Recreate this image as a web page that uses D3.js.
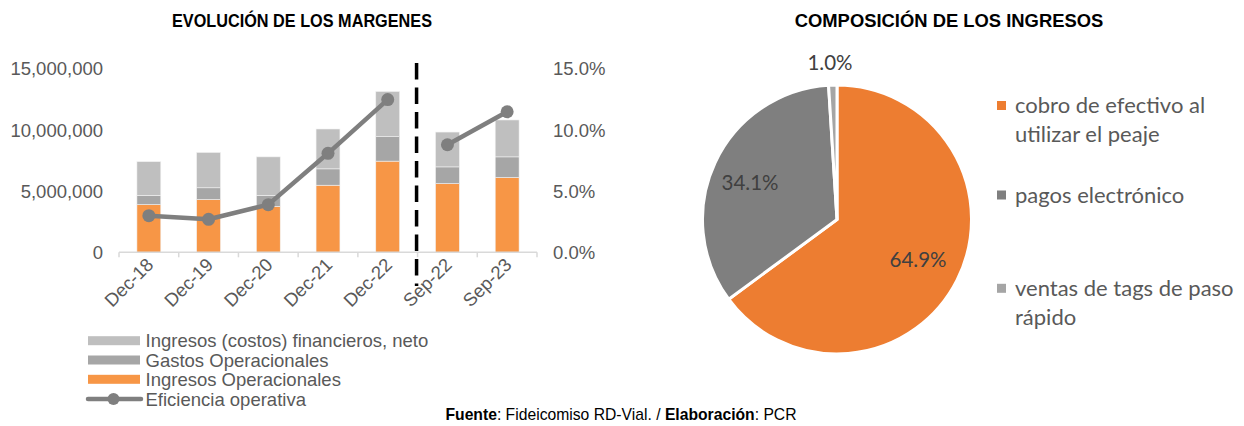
<!DOCTYPE html>
<html><head><meta charset="utf-8">
<script src="https://cdn.jsdelivr.net/npm/d3@7"></script>
<style>
html,body{margin:0;padding:0;background:#fff;}
svg{display:block;}
</style></head>
<body>
<svg id="c" width="1244" height="426"></svg>
<script>
// ---- data ----
const categories = ["Dec-18","Dec-19","Dec-20","Dec-21","Dec-22","Sep-22","Sep-23"];
const ingresosOperacionales = [3900000, 4320000, 3760000, 5490000, 7460000, 5620000, 6120000];
const gastosOperacionales   = [760000, 960000, 900000, 1340000, 2000000, 1370000, 1690000];
const ingresosFinancieros   = [2760000, 2890000, 3150000, 3260000, 3700000, 2850000, 3020000];
const eficienciaOperativa   = [0.030, 0.027, 0.039, 0.081, 0.125, 0.088, 0.115];
const leftTicks = [0, 5000000, 10000000, 15000000];
const rightTicks = [0, 0.05, 0.10, 0.15];
const barSeriesNames = ["Ingresos (costos) financieros, neto","Gastos Operacionales","Ingresos Operacionales"];
const lineSeriesName = "Eficiencia operativa";

const pieLabels = ["cobro de efectivo al utilizar el peaje","pagos electrónico","ventas de tags de paso rápido"];
const pieLegendLines = [["cobro de efectivo al","utilizar el peaje"],["pagos electrónico"],["ventas de tags de paso","rápido"]];
const pieValues = [64.9, 34.1, 1.0];

// ---- styles ----
const cOrangeBar = "#f79646", cGastos = "#a6a6a6", cFin = "#bfbfbf", cLine = "#7f7f7f";
const pieColors = ["#ed7d31", "#7f7f7f", "#a5a5a5"];
const arial = "'Liberation Sans', Arial, sans-serif";
const cal = "Lato, 'Noto Sans', sans-serif";
const txt = "#595959";
const fs = 18.5;

const svg = d3.select("#c");

// ---- titles ----
svg.append("text").attr("x", 302).attr("y", 27).attr("text-anchor","middle")
  .attr("font-family", arial).attr("font-weight","bold").attr("font-size", 18.5).attr("fill","#000")
  .attr("textLength", 260).attr("lengthAdjust", "spacingAndGlyphs")
  .text("EVOLUCIÓN DE LOS MARGENES");
svg.append("text").attr("x", 949).attr("y", 27).attr("text-anchor","middle")
  .attr("font-family", arial).attr("font-weight","bold").attr("font-size", 18.4).attr("fill","#000")
  .text("COMPOSICIÓN DE LOS INGRESOS");

// ---- bar chart ----
const x = d3.scaleBand().domain(categories).range([119, 537]).paddingInner(0).paddingOuter(0);
const xb = d3.scaleBand().domain(categories).range([119, 537]).paddingInner(0.6).paddingOuter(0.3);
const y = d3.scaleLinear().domain([0, 15000000]).range([252.3, 69]);
const y2 = d3.scaleLinear().domain([0, 0.15]).range([252.3, 69]);

const rows = categories.map((c,i)=>({cat:c, op: ingresosOperacionales[i], gastos: gastosOperacionales[i], fin: ingresosFinancieros[i]}));
const stack = d3.stack().keys(["op","gastos","fin"])(rows);
const segColors = {op: cOrangeBar, gastos: cGastos, fin: cFin};

const gBars = svg.append("g");
stack.forEach(layer => {
  gBars.selectAll(null).data(layer).enter().append("rect")
    .attr("x", d => xb(d.data.cat))
    .attr("width", xb.bandwidth())
    .attr("y", d => y(d[1]))
    .attr("height", d => y(d[0]) - y(d[1]))
    .attr("fill", segColors[layer.key])
    .attr("stroke", "#f2f2f2").attr("stroke-width", 0.6);
});

// x axis
const xAxisG = svg.append("g").attr("transform", `translate(0,${y(0)})`);
xAxisG.append("line").attr("x1", 119).attr("x2", 537).attr("y1", 0).attr("y2", 0)
  .attr("stroke", "#d9d9d9").attr("stroke-width", 1.5);
const bounds = categories.map(c => x(c)).concat([x(categories[categories.length-1]) + x.bandwidth()]);
xAxisG.selectAll(null).data(bounds).enter().append("line")
  .attr("x1", d=>d).attr("x2", d=>d).attr("y1", 0).attr("y2", 5)
  .attr("stroke", "#d9d9d9").attr("stroke-width", 1.5);
xAxisG.selectAll(null).data(categories).enter().append("text")
  .attr("transform", d => `translate(${x(d) + x.bandwidth()/2 + 1},${9}) rotate(-45)`)
  .attr("text-anchor","end").attr("dy","0.35em")
  .attr("font-family", arial).attr("font-size", fs).attr("fill", txt)
  .text(d => d);

// left axis labels
svg.append("g").selectAll(null).data(leftTicks).enter().append("text")
  .attr("x", 103).attr("y", d => y(d)).attr("dy", "0.35em").attr("text-anchor","end")
  .attr("font-family", arial).attr("font-size", fs).attr("fill", txt)
  .text(d => d3.format(",")(d));
// right axis labels
svg.append("g").selectAll(null).data(rightTicks).enter().append("text")
  .attr("x", 553).attr("y", d => y2(d)).attr("dy", "0.35em").attr("text-anchor","start")
  .attr("font-family", arial).attr("font-size", fs).attr("fill", txt)
  .text(d => d3.format(".1%")(d));

// dashed separator between Dec-22 and Sep-22
const sepX = x("Sep-22") - 1;
svg.append("line").attr("x1", sepX).attr("x2", sepX).attr("y1", 63).attr("y2", 286)
  .attr("stroke", "#000").attr("stroke-width", 3.5).attr("stroke-dasharray", "16.5,8");

// line series (broken between the two periods)
const pts = categories.map((c,i)=>({cat:c, v: eficienciaOperativa[i], seg: i < 5 ? 0 : 1}));
const lineGen = d3.line().x(d => x(d.cat) + x.bandwidth()/2).y(d => y2(d.v));
[0,1].forEach(s => {
  svg.append("path").datum(pts.filter(p => p.seg === s))
    .attr("d", lineGen).attr("fill","none").attr("stroke", cLine).attr("stroke-width", 4.5)
    .attr("stroke-linejoin","round");
});
svg.append("g").selectAll(null).data(pts).enter().append("circle")
  .attr("cx", d => x(d.cat) + x.bandwidth()/2).attr("cy", d => y2(d.v)).attr("r", 6.5)
  .attr("fill", cLine);

// bar chart legend
const legY = [340.7, 360, 379.3, 399];
const legItems = [
  {name: barSeriesNames[0], color: cFin, type: "bar"},
  {name: barSeriesNames[1], color: cGastos, type: "bar"},
  {name: barSeriesNames[2], color: cOrangeBar, type: "bar"},
  {name: lineSeriesName, color: cLine, type: "line"}
];
const lg = svg.append("g");
legItems.forEach((it, i) => {
  if (it.type === "bar") {
    lg.append("rect").attr("x", 88).attr("y", legY[i] - 4.5).attr("width", 52).attr("height", 9).attr("fill", it.color);
  } else {
    lg.append("line").attr("x1", 88).attr("x2", 141).attr("y1", legY[i]).attr("y2", legY[i])
      .attr("stroke", it.color).attr("stroke-width", 4.5).attr("stroke-linecap","round");
    lg.append("circle").attr("cx", 113.5).attr("cy", legY[i]).attr("r", 6).attr("fill", it.color);
  }
  lg.append("text").attr("x", 145.5).attr("y", legY[i]).attr("dy","0.36em")
    .attr("font-family", arial).attr("font-size", fs).attr("fill", txt).text(it.name);
});

// ---- pie ----
const cx = 837, cy = 219.5, R = 134.5;
const pie = d3.pie().sort(null).value(d => d)(pieValues);
const arc = d3.arc().innerRadius(0).outerRadius(R);
const gp = svg.append("g").attr("transform", `translate(${cx},${cy})`);
gp.selectAll(null).data(pie).enter().append("path")
  .attr("d", arc).attr("fill", (d,i) => pieColors[i])
  .attr("stroke", "#fff").attr("stroke-width", 3).attr("stroke-linejoin","round");

const pieLabelPos = [[81, 40.5], [-87, -37], [-7, -157]];
gp.selectAll(null).data(pie).enter().append("text")
  .attr("x", (d,i) => pieLabelPos[i][0]).attr("y", (d,i) => pieLabelPos[i][1]).attr("dy","0.35em")
  .attr("text-anchor","middle").attr("font-family", cal).attr("font-size", 20.5).attr("fill", "#404040")
  .text(d => d3.format(".1f")(d.data) + "%");

// pie legend
const pl = svg.append("g");
const plY = [105.5, 195, 288.3];
pieLegendLines.forEach((lines, i) => {
  pl.append("rect").attr("x", 997).attr("y", plY[i] - 4.5).attr("width", 9).attr("height", 9).attr("fill", pieColors[i]);
  lines.forEach((ln, j) => {
    pl.append("text").attr("x", 1015).attr("y", plY[i] + j*28.5).attr("dy","0.35em")
      .attr("font-family", cal).attr("font-size", 22).attr("fill", txt).text(ln);
  });
});

// footer
const ft = svg.append("text").attr("x", 621).attr("y", 420).attr("text-anchor","middle")
  .attr("font-family", arial).attr("font-size", 15.7).attr("fill","#000");
ft.append("tspan").attr("font-weight","bold").text("Fuente");
ft.append("tspan").text(": Fideicomiso RD-Vial. / ");
ft.append("tspan").attr("font-weight","bold").text("Elaboración");
ft.append("tspan").text(": PCR");
</script>
</body></html>
